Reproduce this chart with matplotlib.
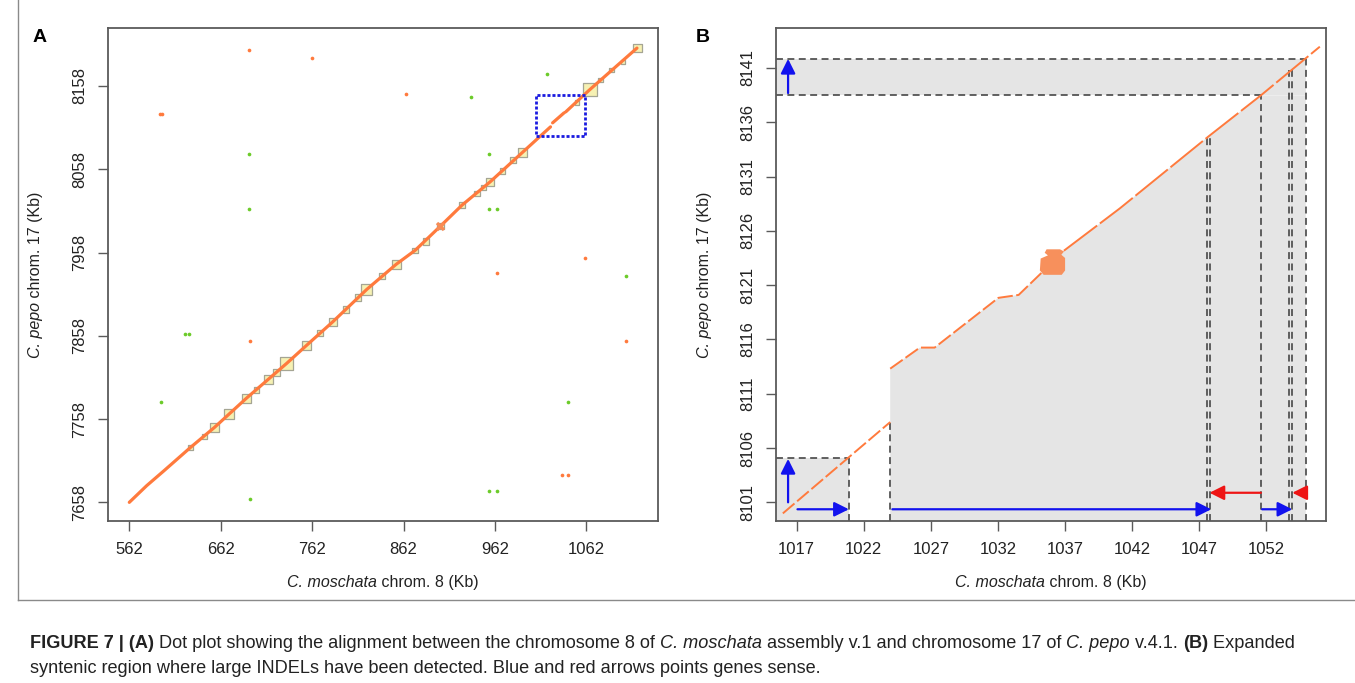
import numpy as np
import matplotlib
matplotlib.use('Agg')
import matplotlib.pyplot as plt
from matplotlib.lines import Line2D

plt.rcParams['font.family'] = ['Liberation Sans', 'DejaVu Sans']
plt.rcParams['lines.scale_dashes'] = False

# ---------------- Panel A data ----------------
a_xticks = [562, 662, 762, 862, 962, 1062]
a_yticks = [7658, 7758, 7858, 7958, 8058, 8158]
a_line_x = [562, 581, 600, 628.8, 655.4, 690.0, 734.0, 755.4, 784.7, 821.7, 853.9, 874.8,
            902.3, 926.0, 956.8, 992.3, 1022.8, np.nan, 1025.1, 1037.6, np.nan,
            1039.5, 1059.0, 1065.8, 1117.4]
a_line_y = [7658, 7678, 7696, 7723.8, 7748.2, 7782.9, 7824.7, 7846.0, 7874.9, 7913.6, 7943.8, 7960.7,
            7989.6, 8014.9, 8042.9, 8078.4, 8108.9, np.nan, 8113.7, 8125.7, np.nan,
            8126.9, 8146.8, 8153.6, 8203.5]
a_sq_x = [1117.9, 1102.3, 1089.5, 1077.6, 1065.8, 1051.6, 992.3, 981.9, 970.1, 956.8, 949.7,
          942.6, 926.0, 902.3, 886.6, 874.8, 853.9, 838.3, 821.7, 812.2, 799.0, 784.7, 770.5,
          755.4, 734.0, 723.1, 714.1, 700.9, 690.0, 671.5, 655.4, 644.0, 628.8]
a_sq_y = [8203.8, 8186.9, 8177.1, 8165.1, 8153.6, 8138.4, 8078.4, 8069.1, 8055.8, 8042.9, 8036.2,
          8029.1, 8014.9, 7989.6, 7971.3, 7960.7, 7943.8, 7929.6, 7913.6, 7903.8, 7889.6, 7874.9,
          7861.6, 7846.0, 7824.7, 7814.0, 7806.0, 7792.7, 7782.9, 7764.4, 7748.2, 7737.1, 7723.8]
a_sq_kb = [9, 5, 5, 5, 15, 5, 10, 6, 6, 9, 6, 6, 6, 7, 7, 6, 10, 6, 12, 7, 7, 9, 6, 10, 14,
           7, 10, 6, 10, 11, 10, 6, 5]
a_orange_x = [692.8, 761.5, 864.4, 595.2, 598.0, 1061.0, 964.8, 694.2, 1105.1, 1035.9, 1042.1]
a_orange_y = [8200.7, 8191.3, 8148.2, 8123.8, 8123.8, 7951.8, 7934.0, 7852.2, 7852.2, 7691.3, 7690.4]
a_green_x = [1018.5, 935.6, 692.8, 955.8, 692.8, 955.8, 964.8, 1105.1, 622.7, 627.4, 596.6,
             1042.1, 955.8, 964.8, 694.2]
a_green_y = [8172.7, 8144.7, 8076.2, 8076.2, 8010.4, 8010.4, 8010.4, 7929.6, 7860.2, 7860.2,
             7778.0, 7778.0, 7671.8, 7671.8, 7662.4]
a_zoom_x = [1006.5, 1060.1]
a_zoom_y = [8098.4, 8147.3]

# ---------------- Panel B data ----------------
b_xticks = [1017, 1022, 1027, 1032, 1037, 1042, 1047, 1052]
b_yticks = [8101, 8106, 8111, 8116, 8121, 8126, 8131, 8136, 8141]
b_line1_x = [1015.97, 1023.97]
b_line1_y = [8099.98, 8108.39]
b_line2_x = [1023.97, 1026.18, 1027.28, 1032.03, 1033.54, 1035.24]
b_line2_y = [8113.31, 8115.25, 8115.25, 8119.83, 8120.10, 8122.13]
b_line3_x = [1036.91, 1041.08, 1047.67, 1051.59, 1055.98]
b_line3_y = [8124.17, 8128.07, 8134.68, 8138.48, 8142.96]
b_blob_x = [1035.40, 1036.75, 1037.0, 1037.0, 1036.72, 1036.92, 1036.62, 1035.62, 1035.48,
            1035.72, 1035.18, 1035.12]
b_blob_y = [8121.95, 8121.95, 8122.35, 8123.50, 8123.80, 8124.10, 8124.30, 8124.30, 8123.98,
            8123.74, 8123.45, 8122.35]
b_vlines_x = [1020.89, 1023.97, 1047.57, 1047.83, 1051.59, 1053.67, 1053.93, 1054.93]
b_vlines_top = [8105.07, 8108.39, 8134.68, 8134.68, 8138.48, 8140.8, 8140.8, 8141.84]
b_hlines_y = [8141.84, 8138.48, 8105.07]
b_hlines_right = [1054.93, 1051.59, 1020.89]
b_blue_arrows = [(1017.06, 8100.36, 1020.89, 8100.36),
                 (1024.13, 8100.36, 1047.89, 8100.36),
                 (1051.68, 8100.36, 1053.93, 8100.36),
                 (1016.36, 8101.0, 1016.36, 8105.0),
                 (1016.36, 8138.69, 1016.36, 8141.84)]
b_red_arrows = [(1051.59, 8101.88, 1047.76, 8101.88),
                (1054.93, 8101.88, 1053.93, 8101.88)]

# ---------------- Text ----------------
xlab_parts = [('C. moschata', 'italic', 'normal'), (' chrom. 8 (Kb)', 'normal', 'normal')]
ylab_parts = [('C. pepo', 'italic', 'normal'), (' chrom. 17 (Kb)', 'normal', 'normal')]
cap1_parts = [('FIGURE 7 | (A)', 'normal', 'bold'),
              (' Dot plot showing the alignment between the chromosome 8 of ', 'normal', 'normal'),
              ('C. moschata', 'italic', 'normal'),
              (' assembly v.1 and chromosome 17 of ', 'normal', 'normal'),
              ('C. pepo', 'italic', 'normal'),
              (' v.4.1. ', 'normal', 'normal'),
              ('(B)', 'normal', 'bold'),
              (' Expanded', 'normal', 'normal')]
cap2_parts = [('syntenic region where large INDELs have been detected. '
               'Blue and red arrows points genes sense.', 'normal', 'normal')]

ORANGE = '#FF7A3D'
GREEN = '#6CCB2A'
GRAYFILL = '#E5E5E5'
DASH = '#474747'
BLUE = '#1212EE'
RED = '#EE1515'
FRAME = '#5A5A5A'
TXT = '#222222'

W, H = 1355, 683
fig = plt.figure(figsize=(W / 100, H / 100), dpi=100)
renderer = fig.canvas.get_renderer()


def rect(l, t, r, b):
    return [l / W, 1 - b / H, (r - l) / W, (b - t) / H]


def rich(x, y, parts, fontsize, vertical=False, center=True):
    """Place styled pieces on a common baseline.
    Horizontal: (x, y) = start/center x and baseline y (pixels from top).
    Vertical: x = baseline x, y = center y (pixels from top)."""
    items = []
    total = 0.0
    for s, st, wt in parts:
        t = fig.text(0, 0, s, fontsize=fontsize, style=st, weight=wt, color=TXT,
                     ha='left', va='baseline', rotation=90 if vertical else 0,
                     rotation_mode='anchor')
        bb = t.get_window_extent(renderer)
        w = bb.height if vertical else bb.width
        items.append((t, total))
        total += w
    if not vertical:
        start = x - total / 2 if center else x
        for t, off in items:
            t.set_position(((start + off) / W, 1 - y / H))
    else:
        start = (H - y) - total / 2  # display coords, upward
        for t, off in items:
            t.set_position((x / W, (start + off) / H))
    return items


axA = fig.add_axes(rect(108, 28, 658, 521))
axB = fig.add_axes(rect(776, 28, 1326, 521))

for ax in (axA, axB):
    for sp in ax.spines.values():
        sp.set_color(FRAME)
        sp.set_linewidth(1.3)
    ax.tick_params(direction='out', length=7, width=1.0, color=FRAME,
                   labelsize=12, labelcolor=TXT, pad=8)

# ---- Panel A
axA.set_xlim(538.7, 1140.4)
axA.set_ylim(7635.6, 8227.6)
axA.set_xticks(a_xticks)
axA.set_yticks(a_yticks)
axA.scatter(a_sq_x, a_sq_y, s=(np.array(a_sq_kb) * 0.914 * 0.72) ** 2, marker='s',
            facecolor='#F6F1B3', edgecolor='#A5A593', linewidths=0.9, zorder=2)
axA.plot(a_line_x, a_line_y, color=ORANGE, lw=2.3, solid_capstyle='round', zorder=3)
axA.scatter(a_orange_x, a_orange_y, s=7, color=ORANGE, lw=0, zorder=3)
axA.scatter(a_green_x, a_green_y, s=7, color=GREEN, lw=0, zorder=3)
axA.scatter([902.3], [7989.6], s=45, marker='X', color='#F98C55', lw=0, zorder=4)
axA.plot([a_zoom_x[0], a_zoom_x[1], a_zoom_x[1], a_zoom_x[0], a_zoom_x[0]],
         [a_zoom_y[0], a_zoom_y[0], a_zoom_y[1], a_zoom_y[1], a_zoom_y[0]],
         color='#1A1AE0', lw=2.0, linestyle=(0, (2.2, 1.4)), zorder=5)

# ---- Panel B
bx0, bx1 = 1015.46, 1056.44
by0, by1 = 8099.28, 8144.68
axB.set_xlim(bx0, bx1)
axB.set_ylim(by0, by1)
axB.set_xticks(b_xticks)
axB.set_yticks(b_yticks)

axB.fill([bx0, b_hlines_right[2], b_hlines_right[2], bx0],
         [by0, by0, b_hlines_y[2], b_hlines_y[2]], color=GRAYFILL, lw=0, zorder=1)
axB.fill([bx0, b_hlines_right[0], b_hlines_right[0], bx0],
         [b_hlines_y[1], b_hlines_y[1], b_hlines_y[0], b_hlines_y[0]],
         color=GRAYFILL, lw=0, zorder=1)
poly_x = [b_line2_x[0]] + b_line2_x + b_line3_x[:-1] + [b_vlines_x[-1], b_vlines_x[-1]]
poly_y = [by0] + b_line2_y + b_line3_y[:-1] + [b_line3_y[-2], by0]
axB.fill(poly_x, poly_y, color=GRAYFILL, lw=0, zorder=1)

dash_style = (0, (5, 3.2))
for xv, yt in zip(b_vlines_x, b_vlines_top):
    axB.plot([xv, xv], [by0, yt], color=DASH, lw=1.2, linestyle=dash_style, zorder=2)
for yh, xr in zip(b_hlines_y, b_hlines_right):
    axB.plot([bx0, xr], [yh, yh], color=DASH, lw=1.2, linestyle=dash_style, zorder=2)

oline = (0, (11, 2.5))
axB.plot(b_line1_x, b_line1_y, color=ORANGE, lw=1.4, linestyle=oline, zorder=3)
axB.plot(b_line2_x, b_line2_y, color=ORANGE, lw=1.4, linestyle=oline, zorder=3)
axB.plot(b_line3_x, b_line3_y, color=ORANGE, lw=1.4, linestyle=(0, (30, 2.5)), zorder=3)
axB.fill(b_blob_x, b_blob_y, color='#F7905C', lw=0, zorder=3)

for (x0, y0, x1, y1) in b_blue_arrows:
    axB.annotate('', xy=(x1, y1), xytext=(x0, y0),
                 arrowprops=dict(arrowstyle='-|>', color=BLUE, lw=1.6,
                                 mutation_scale=22, shrinkA=0, shrinkB=0), zorder=4)
for (x0, y0, x1, y1) in b_red_arrows:
    axB.annotate('', xy=(x1, y1), xytext=(x0, y0),
                 arrowprops=dict(arrowstyle='-|>', color=RED, lw=1.6,
                                 mutation_scale=22, shrinkA=0, shrinkB=0), zorder=4)

for ax in (axA, axB):
    for lab in ax.get_yticklabels():
        lab.set_rotation(90)
        lab.set_va('center')

# axis titles
rich(383, 587, xlab_parts, 11.5)
rich(1051, 587, xlab_parts, 11.5)
rich(40, 275, ylab_parts, 11.5, vertical=True)
rich(709, 275, ylab_parts, 11.5, vertical=True)

fig.text(40 / W, 1 - 37 / H, 'A', ha='center', va='center', fontsize=14, fontweight='bold')
fig.text(703 / W, 1 - 37 / H, 'B', ha='center', va='center', fontsize=14, fontweight='bold')

# frame lines
fig.add_artist(Line2D([18 / W, 18 / W], [1, 1 - 600 / H], color='#8A8A8A', lw=1.0))
fig.add_artist(Line2D([18 / W, 1], [1 - 600 / H, 1 - 600 / H], color='#8A8A8A', lw=1.0))

# caption
rich(30, 648, cap1_parts, 13.1, center=False)
rich(30, 673, cap2_parts, 13.1, center=False)

fig.savefig('out.png', dpi=100)
